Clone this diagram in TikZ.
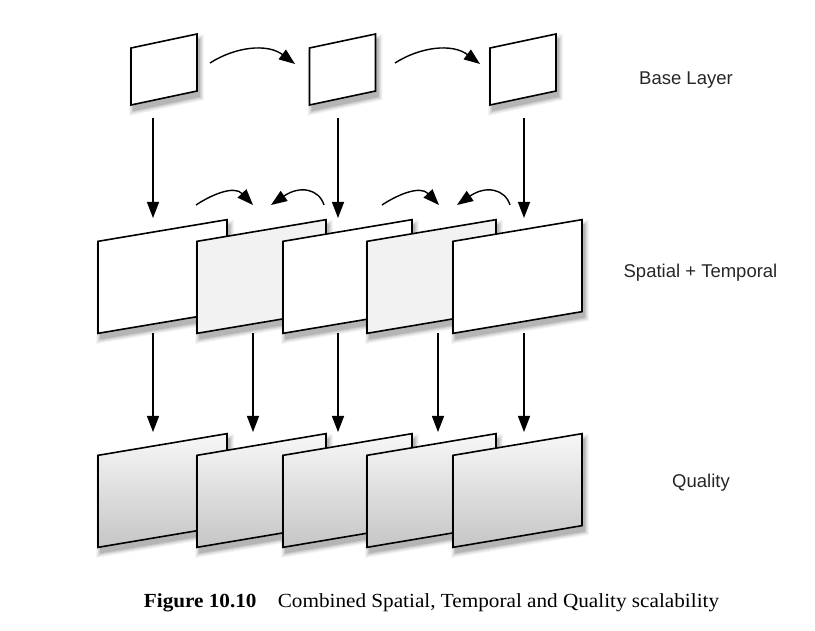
\documentclass[tikz,border=0pt]{standalone}
\usepackage{fontspec}
\setmainfont{Liberation Serif}
\newfontfamily\labelfont{Liberation Sans}
\usetikzlibrary{arrows.meta,calc}
\newcommand\fshadow[5]{% x, y, width, height, slant
  \foreach \gg/\oo in {9/0.04,7/0.05,5/0.06,3/0.08,1/0.10}{%
    \path (#1,#2) ++(2.5,5.5) node[shape=rectangle, fill=black, opacity=\oo,
      inner sep=0pt, minimum width=#3+\gg, minimum height=#4+\gg, yslant=#5] {};}}
\begin{document}
\begin{tikzpicture}[x=1pt,y=-1pt,
  smallframe/.style={draw=black, line width=1.6pt, fill=white, inner sep=0pt, outer sep=0pt,
                     minimum width=66pt, minimum height=57pt, yslant=0.212},
  bigframe/.style={draw=black, line width=1.6pt, fill=white, inner sep=0pt, outer sep=0pt,
                     minimum width=129pt, minimum height=92pt, yslant=0.168},
  grayframe/.style={bigframe, fill=gray!10},
  qualframe/.style={bigframe, top color=gray!6, middle color=gray!17, bottom color=gray!45},
  arr/.style={line width=1.4pt, -{Triangle[length=16pt,width=12pt]}},
  carr/.style={line width=1.4pt, -{Triangle[length=16pt,width=12pt]}},
  lab/.style={font=\labelfont\fontsize{18.5}{22}\selectfont, text=black!85, inner sep=0pt},
]
\useasboundingbox (0,0) rectangle (815,631);

% base layer
\fshadow{164}{69.5}{66}{57}{0.212}
\node[smallframe] (b1) at (164,69.5) {};
\fshadow{342.5}{69.5}{66}{57}{0.212}
\node[smallframe] (b2) at (342.5,69.5) {};
\fshadow{523}{69.5}{66}{57}{0.212}
\node[smallframe] (b3) at (523,69.5) {};

% spatial + temporal
\fshadow{162.5}{276.5}{129}{92}{0.168}
\node[bigframe]  (m1) at (162.5,276.5) {};
\fshadow{261.5}{276.5}{129}{92}{0.168}
\node[grayframe] (m2) at (261.5,276.5) {};
\fshadow{347.5}{276.5}{129}{92}{0.168}
\node[bigframe]  (m3) at (347.5,276.5) {};
\fshadow{431.5}{276.5}{129}{92}{0.168}
\node[grayframe] (m4) at (431.5,276.5) {};
\fshadow{517.5}{276.5}{129}{92}{0.168}
\node[bigframe]  (m5) at (517.5,276.5) {};

% quality
\fshadow{162.5}{490.5}{129}{92}{0.168}
\node[qualframe] (q1) at (162.5,490.5) {};
\fshadow{261.5}{490.5}{129}{92}{0.168}
\node[qualframe] (q2) at (261.5,490.5) {};
\fshadow{347.5}{490.5}{129}{92}{0.168}
\node[qualframe] (q3) at (347.5,490.5) {};
\fshadow{431.5}{490.5}{129}{92}{0.168}
\node[qualframe] (q4) at (431.5,490.5) {};
\fshadow{517.5}{490.5}{129}{92}{0.168}
\node[qualframe] (q5) at (517.5,490.5) {};

% connector end points
\coordinate (t1s) at (210,63);  \coordinate (t1e) at (295,64);
\coordinate (t2s) at (395,63);  \coordinate (t2e) at (480,64);
\coordinate (v1s) at (153,118); \coordinate (v1e) at (153,218);
\coordinate (v2s) at (338,118); \coordinate (v2e) at (338,218);
\coordinate (v3s) at (524,118); \coordinate (v3e) at (524,218);
\coordinate (c1s) at (196,205); \coordinate (c1e) at (253,205);
\coordinate (c2s) at (324,205); \coordinate (c2e) at (271,205);
\coordinate (c3s) at (382,205); \coordinate (c3e) at (439,205);
\coordinate (c4s) at (510,205); \coordinate (c4e) at (457,205);
\coordinate (w1s) at (153,333); \coordinate (w1e) at (153,432);
\coordinate (w2s) at (253,333); \coordinate (w2e) at (253,432);
\coordinate (w3s) at (338,333); \coordinate (w3e) at (338,432);
\coordinate (w4s) at (438,333); \coordinate (w4e) at (438,432);
\coordinate (w5s) at (524,333); \coordinate (w5e) at (524,432);

% temporal arrows, base layer
\draw[carr] (t1s) .. controls ($(t1s)+(25,-16)$) and ($(t1s)+(57,-20)$) .. (t1e);
\draw[carr] (t2s) .. controls ($(t2s)+(25,-16)$) and ($(t2s)+(57,-20)$) .. (t2e);

% vertical arrows
\foreach \i in {1,2,3} \draw[arr] (v\i s) -- (v\i e);
\foreach \i in {1,2,3,4,5} \draw[arr] (w\i s) -- (w\i e);

% small curved arrows
\draw[carr] (c1s) .. controls ($(c1s)+(15,-10)$) and ($(c1s)+(38,-20)$) .. (c1e);
\draw[carr] (c2s) .. controls ($(c2s)+(-5,-16)$) and ($(c2s)+(-24,-20)$) .. (c2e);
\draw[carr] (c3s) .. controls ($(c3s)+(15,-10)$) and ($(c3s)+(38,-20)$) .. (c3e);
\draw[carr] (c4s) .. controls ($(c4s)+(-5,-16)$) and ($(c4s)+(-24,-20)$) .. (c4e);

% labels
\node[lab] (lb) at (686,80.5) {Base Layer};
\node[lab] (ls) at (700.5,272.5) {Spatial + Temporal};
\node[lab] (lq) at (701,483) {Quality};

% caption
\node[inner sep=0pt, xscale=1.06, font=\fontsize{20}{24}\selectfont] (cap) at (431.5,603)
  {\textbf{Figure 10.10}\quad Combined Spatial, Temporal and Quality scalability};
\end{tikzpicture}
\end{document}
